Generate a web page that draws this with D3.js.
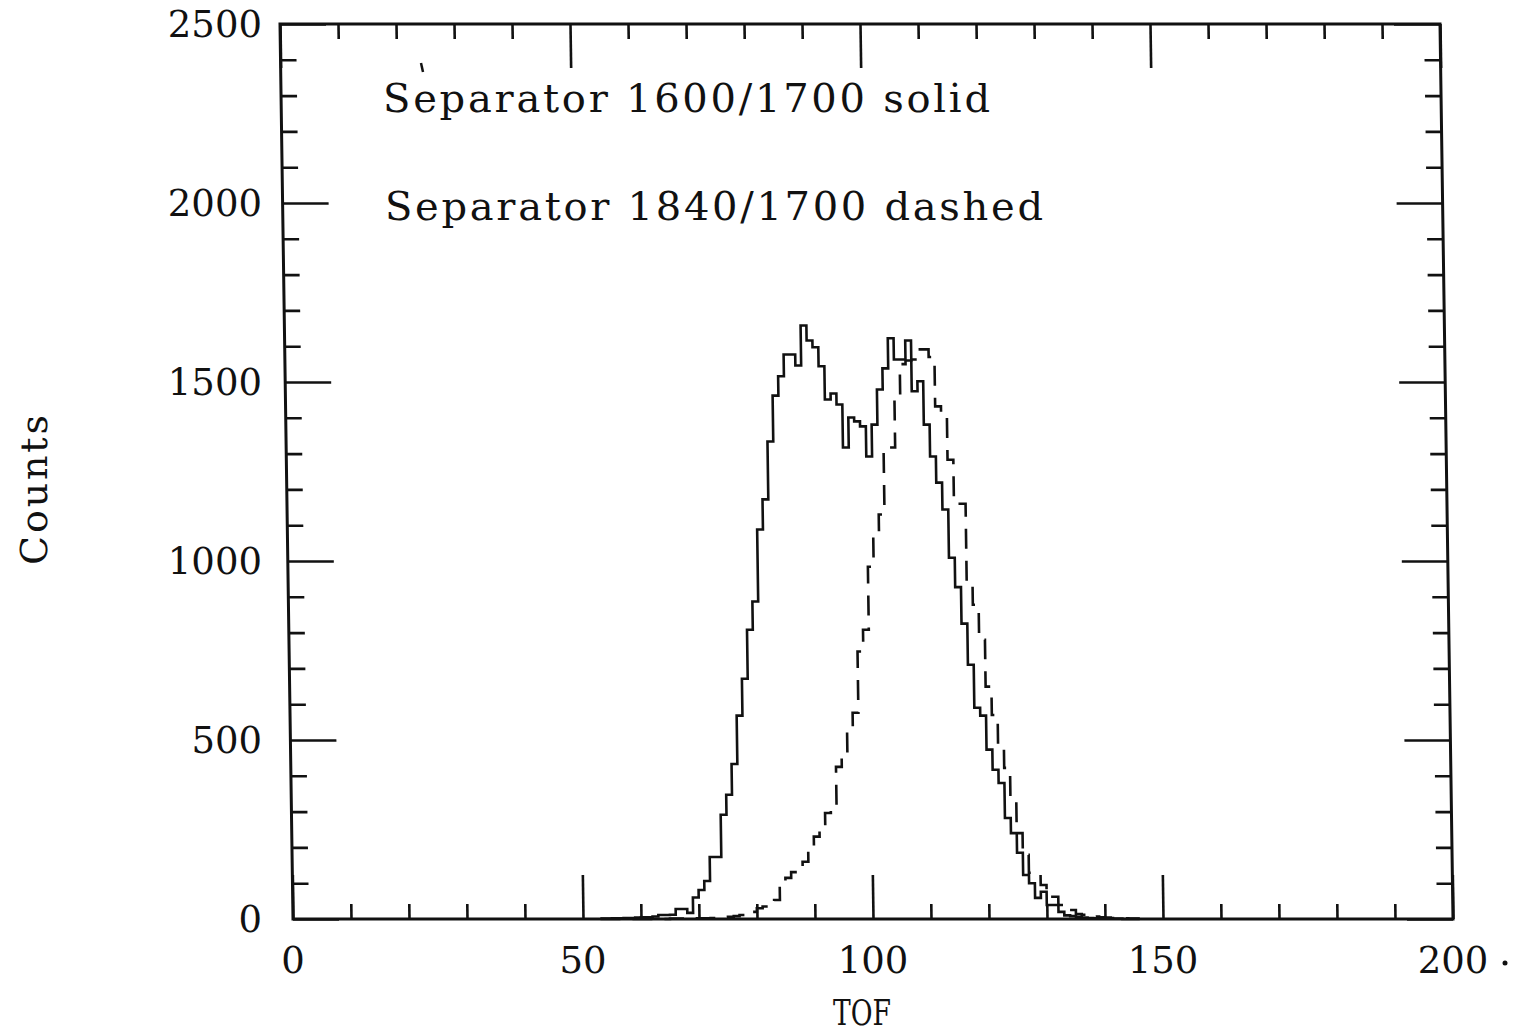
<!DOCTYPE html>
<html>
<head>
<meta charset="utf-8">
<script src="https://cdn.jsdelivr.net/npm/d3@7"></script>
<style>
  html, body { margin: 0; padding: 0; background: #fff; }
  svg { display: block; }
  text { font-family: "DejaVu Serif", "Liberation Serif", serif; fill: #111; }
</style>
</head>
<body>
<div id="chart"></div>
<script>
// TOF histograms, 1-unit bins starting at binStart
const binStart = 53;

// Separator 1600/1700 (solid)
const solidCounts = [
  1, 1, 2, 2, 3, 3, 4, 5, 5, 7,
  11, 11, 12, 28, 28, 17, 60, 81, 106, 173,
  173, 291, 347, 433, 568, 671, 808, 887, 1088, 1172,
  1334, 1462, 1516, 1577, 1577, 1546, 1658, 1616, 1597, 1544,
  1451, 1468, 1437, 1317, 1401, 1390, 1376, 1292, 1381, 1479,
  1538, 1622, 1563, 1563, 1616, 1474, 1502, 1381, 1292, 1219,
  1144, 1009, 927, 825, 710, 590, 568, 473, 417, 380,
  282, 240, 185, 123, 100, 59, 76, 39, 39, 20,
  10, 8, 6, 4, 3, 2, 2, 1, 1, 1, 0, 0, 0
];

// Separator 1840/1700 (dashed)
const dashedCounts = [
  0, 0, 0, 0, 0, 0, 0, 0, 0, 0,
  0, 0, 1, 1, 1, 1, 2, 2, 2, 3,
  3, 4, 6, 8, 11, 11, 20, 30, 35, 45,
  53, 100, 115, 131, 148, 160, 201, 230, 254, 296,
  318, 425, 453, 537, 576, 747, 808, 984, 1071, 1130,
  1317, 1317, 1465, 1550, 1560, 1563, 1591, 1591, 1570, 1432,
  1400, 1283, 1160, 1160, 940, 878, 780, 649, 570, 473,
  422, 347, 240, 179, 129, 129, 95, 62, 62, 39,
  25, 25, 14, 12, 10, 7, 5, 4, 3, 2, 2, 1, 1
];

// Axis ticks and labels
const xMajor = [0, 50, 100, 150, 200];
const xLabels = ["0", "50", "100", "150", "200"];
const yMajor = [0, 500, 1000, 1500, 2000, 2500];
const yLabels = ["0", "500", "1000", "1500", "2000", "2500"];
const legendLines = ["Separator 1600/1700 solid", "Separator 1840/1700 dashed"];

const W = 1514, H = 1035;
const frame = { left: 293, right: 1453, top: 24, bottom: 919 };

const svg = d3.select("#chart").append("svg")
  .attr("width", W)
  .attr("height", H);

const x = d3.scaleLinear().domain([0, 200]).range([frame.left, frame.right]);
const y = d3.scaleLinear().domain([0, 2500]).range([frame.bottom, frame.top]);

// the scanned original leans slightly to the left at the top
const skew = Math.atan(13 / (frame.bottom - frame.top)) * 180 / Math.PI;
const plot = svg.append("g")
  .attr("transform", `translate(0,${frame.bottom}) skewX(${skew}) translate(0,${-frame.bottom})`);

// histograms
function toSteps(counts) {
  const pts = counts.map((c, i) => [binStart + i, c]);
  pts.push([binStart + counts.length, counts[counts.length - 1]]);
  return pts;
}
const line = d3.line()
  .x(d => x(d[0]))
  .y(d => y(d[1]))
  .curve(d3.curveStepAfter);

plot.append("path")
  .datum(toSteps(dashedCounts))
  .attr("fill", "none")
  .attr("stroke", "#111")
  .attr("stroke-width", 2.6)
  .attr("stroke-dasharray", "20,12")
  .attr("d", line);

plot.append("path")
  .datum(toSteps(solidCounts))
  .attr("fill", "none")
  .attr("stroke", "#111")
  .attr("stroke-width", 2.6)
  .attr("d", line);

// ticks (all pointing inward)
const xMinor = d3.range(0, 201, 10).filter(v => v % 50 !== 0);
const yMinor = d3.range(0, 2501, 100).filter(v => v % 500 !== 0);

function addAxis(axis, tx, ty) {
  plot.append("g")
    .attr("transform", `translate(${tx},${ty})`)
    .call(axis.tickFormat(""))
    .call(g => g.select(".domain").remove())
    .call(g => g.selectAll("line").attr("stroke", "#111").attr("stroke-width", 2.6));
}
addAxis(d3.axisBottom(x).tickValues(xMinor).tickSize(-15), 0, frame.bottom);
addAxis(d3.axisBottom(x).tickValues(xMajor).tickSize(-44), 0, frame.bottom);
addAxis(d3.axisTop(x).tickValues(xMinor).tickSize(-15), 0, frame.top);
addAxis(d3.axisTop(x).tickValues(xMajor).tickSize(-44), 0, frame.top);
addAxis(d3.axisLeft(y).tickValues(yMinor).tickSize(-16), frame.left, 0);
addAxis(d3.axisLeft(y).tickValues(yMajor).tickSize(-46), frame.left, 0);
addAxis(d3.axisRight(y).tickValues(yMinor).tickSize(-16), frame.right, 0);
addAxis(d3.axisRight(y).tickValues(yMajor).tickSize(-46), frame.right, 0);

// frame
plot.append("rect")
  .attr("x", frame.left).attr("y", frame.top)
  .attr("width", frame.right - frame.left).attr("height", frame.bottom - frame.top)
  .attr("fill", "none")
  .attr("stroke", "#111")
  .attr("stroke-width", 3);

// tick labels
svg.append("g").selectAll("text")
  .data(xMajor)
  .join("text")
  .attr("x", d => x(d))
  .attr("y", 973)
  .attr("text-anchor", "middle")
  .attr("font-size", 37)
  .text((d, i) => xLabels[i]);

svg.append("g").selectAll("text")
  .data(yMajor)
  .join("text")
  .attr("x", 262)
  .attr("y", d => y(d) + 13)
  .attr("text-anchor", "end")
  .attr("font-size", 37)
  .text((d, i) => yLabels[i]);

// axis titles
svg.append("text")
  .attr("x", 862).attr("y", 1025)
  .attr("text-anchor", "middle")
  .attr("font-size", 36)
  .attr("textLength", 58)
  .attr("lengthAdjust", "spacingAndGlyphs")
  .text("TOF");

svg.append("text")
  .attr("transform", "translate(47,490) rotate(-90)")
  .attr("text-anchor", "middle")
  .attr("font-size", 38)
  .attr("textLength", 150)
  .attr("lengthAdjust", "spacing")
  .text("Counts");

// legend text
svg.append("text")
  .attr("x", 383).attr("y", 112)
  .attr("font-size", 40)
  .attr("textLength", 607)
  .attr("lengthAdjust", "spacing")
  .text(legendLines[0]);

svg.append("text")
  .attr("x", 385).attr("y", 220)
  .attr("font-size", 40)
  .attr("textLength", 658)
  .attr("lengthAdjust", "spacing")
  .text(legendLines[1]);

// specks from the scan
svg.append("line")
  .attr("x1", 421).attr("y1", 63).attr("x2", 423).attr("y2", 72)
  .attr("stroke", "#111").attr("stroke-width", 2.5);
svg.append("circle")
  .attr("cx", 1505).attr("cy", 963).attr("r", 2.5)
  .attr("fill", "#111");
</script>
</body>
</html>
